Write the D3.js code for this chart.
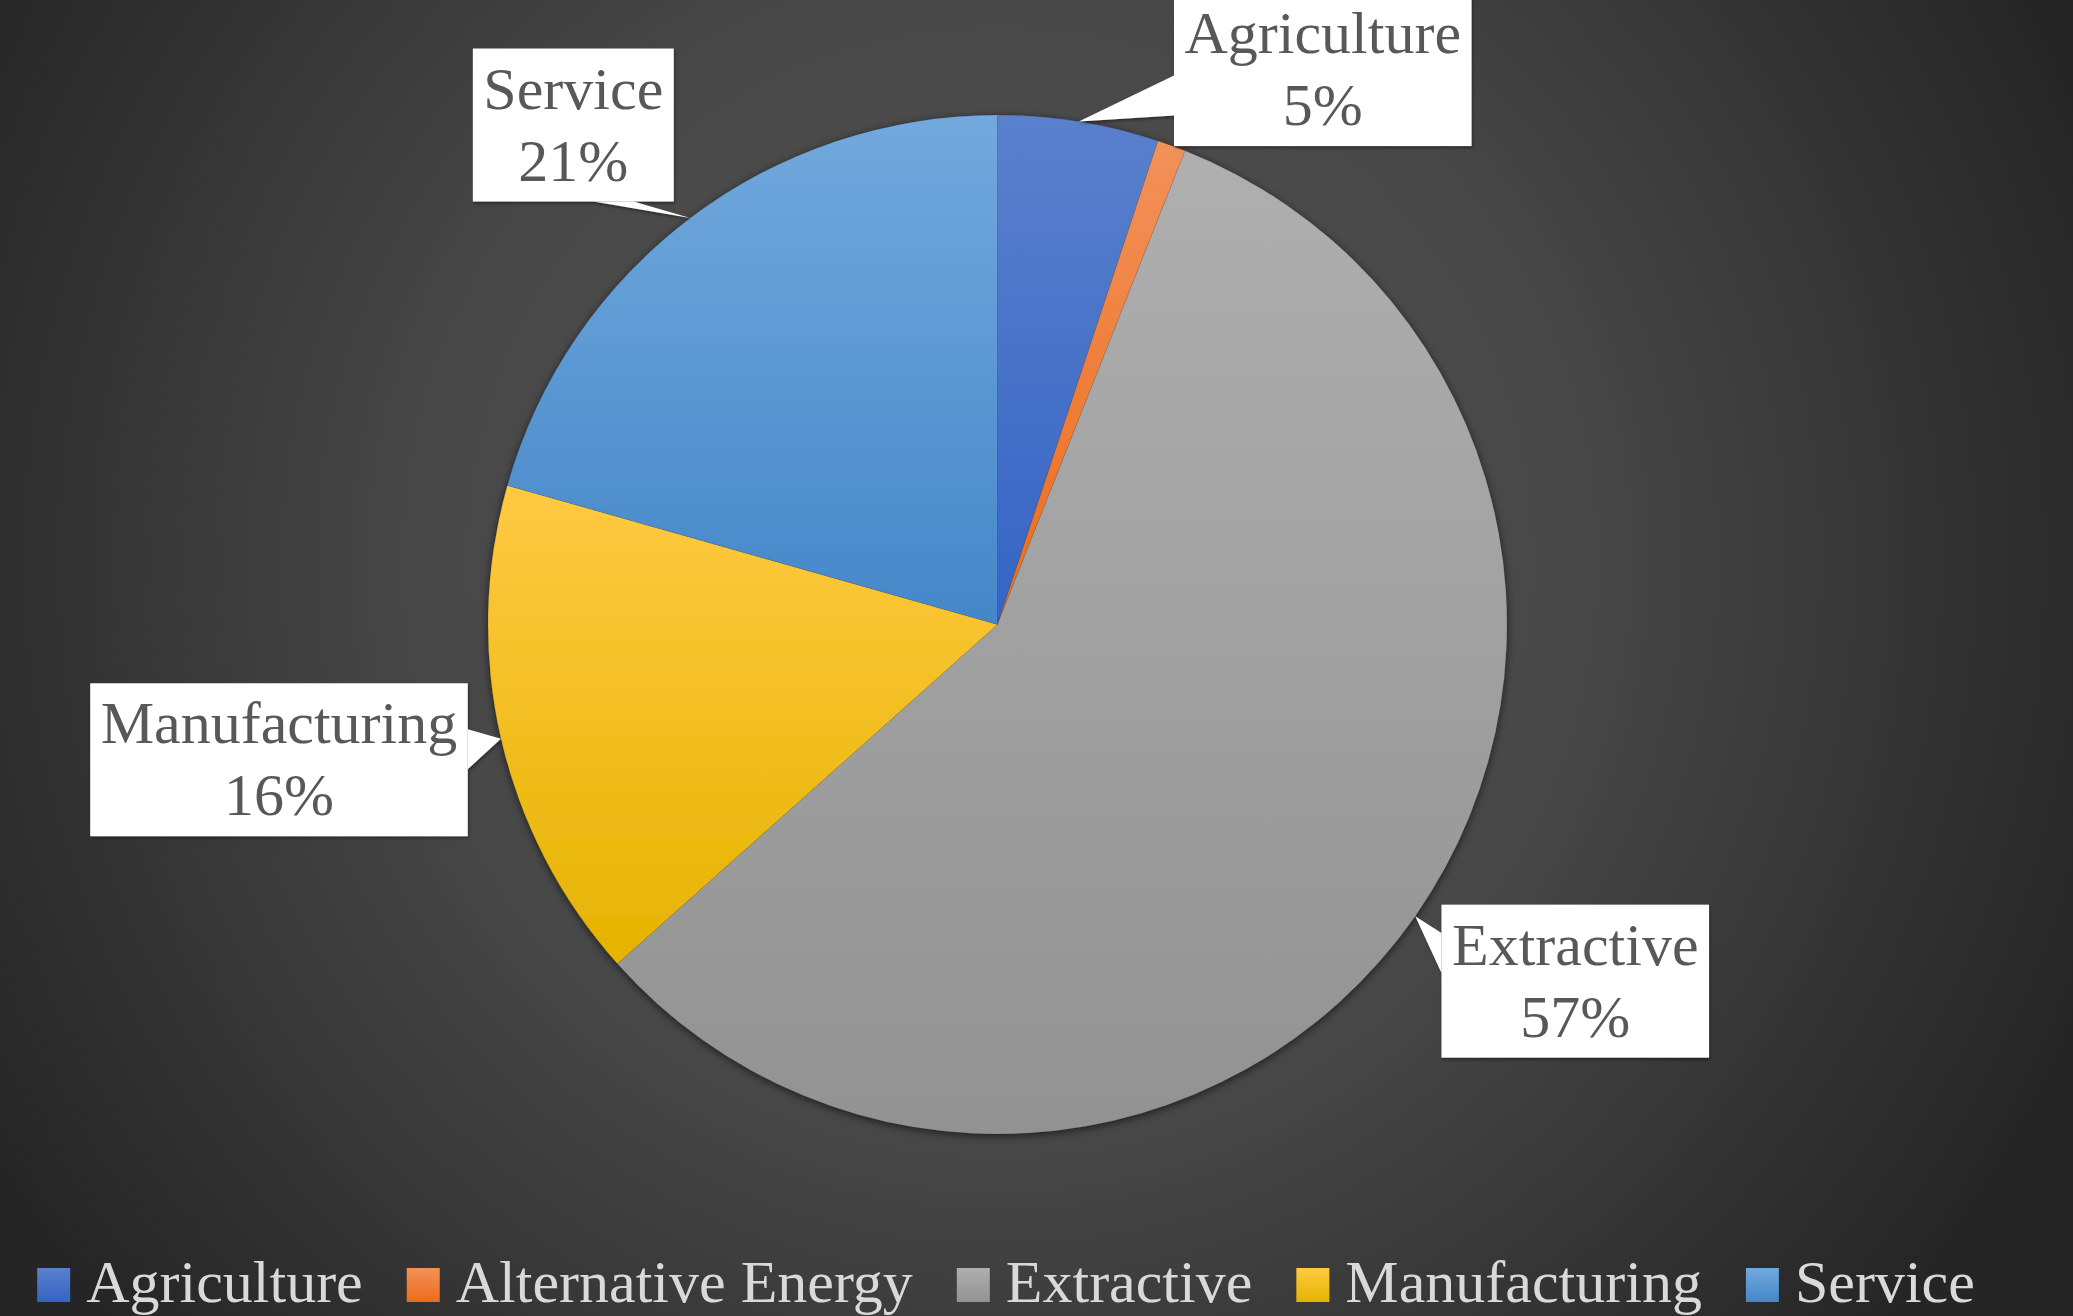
<!DOCTYPE html>
<html>
<head>
<meta charset="utf-8">
<script src="https://cdn.jsdelivr.net/npm/d3@7"></script>
<style>
    body { margin: 0; background: #2b2b2b; overflow: hidden; }
    text { font-family: "Liberation Serif", "DejaVu Serif", serif; }
</style>
</head>
<body>
<script>
// data
var categories = ["Agriculture", "Alternative Energy", "Extractive", "Manufacturing", "Service"];
var shares = [5.1, 0.9, 57.4, 16.0, 20.6];

// slice colours (top and bottom of each gradient)
var colorTop = ["#5b80cc", "#f2915a", "#afafaf", "#ffca42", "#72a9dd"];
var colorBottom = ["#3464c5", "#ec6c1a", "#929292", "#e5b300", "#4487c9"];

// the Alternative Energy callout sits above the visible area, so only these show
var labelled = ["Agriculture", "Extractive", "Manufacturing", "Service"];

window.onload = function() {
    var w = 2073, h = 1316;
    var cx = 997.5, cy = 624.5, r = 509.5;

    // where each callout box sits, relative to the point its pointer touches
    var calloutOffset = {
        "Agriculture": [244, -52],
        "Service": [-117, -93],
        "Manufacturing": [-222, 21],
        "Extractive": [160, 65]
    };

    var svg = d3.select("body")
        .append("svg")
        .attr("width", w)
        .attr("height", h);

    var defs = svg.append("defs");

    // dark radial background
    var bg = defs.append("radialGradient")
        .attr("id", "bg")
        .attr("gradientUnits", "userSpaceOnUse")
        .attr("cx", 1000).attr("cy", 560).attr("r", 1170);
    bg.append("stop").attr("offset", 0).attr("stop-color", "#555555");
    bg.append("stop").attr("offset", 0.5).attr("stop-color", "#474747");
    bg.append("stop").attr("offset", 1).attr("stop-color", "#252525");

    svg.append("rect")
        .attr("width", w)
        .attr("height", h)
        .style("fill", "url(#bg)");

    // one vertical gradient per slice
    categories.forEach(function(c, i) {
        var g = defs.append("linearGradient")
            .attr("id", "grad" + i)
            .attr("x1", 0).attr("y1", 0).attr("x2", 0).attr("y2", 1);
        g.append("stop").attr("offset", 0).attr("stop-color", colorTop[i]);
        g.append("stop").attr("offset", 1).attr("stop-color", colorBottom[i]);
    });

    var shadow = defs.append("filter")
        .attr("id", "shadow")
        .attr("x", "-10%").attr("y", "-10%")
        .attr("width", "120%").attr("height", "120%");
    shadow.append("feDropShadow")
        .attr("dx", 0).attr("dy", 2)
        .attr("stdDeviation", 4)
        .attr("flood-color", "#000")
        .attr("flood-opacity", 0.6);

    var boxShadow = defs.append("filter")
        .attr("id", "boxShadow")
        .attr("x", "-10%").attr("y", "-10%")
        .attr("width", "120%").attr("height", "130%");
    boxShadow.append("feDropShadow")
        .attr("dx", 1).attr("dy", 2)
        .attr("stdDeviation", 1.5)
        .attr("flood-color", "#000")
        .attr("flood-opacity", 0.4);

    var data = categories.map(function(c, i) {
        return { name: c, value: shares[i], index: i };
    });
    var total = d3.sum(shares);

    var pie = d3.pie()
        .sort(null)
        .value(function(d) { return d.value; });
    var arcs = pie(data);

    var arc = d3.arc().innerRadius(0).outerRadius(r);
    var rim = d3.arc().innerRadius(r).outerRadius(r); // point on the edge at mid angle

    var pieGroup = svg.append("g")
        .attr("transform", "translate(" + cx + "," + cy + ")")
        .attr("filter", "url(#shadow)");

    pieGroup.selectAll(".slice")
        .data(arcs)
        .enter()
        .append("path")
        .attr("class", "slice")
        .attr("d", arc)
        .style("fill", function(d) { return "url(#grad" + d.data.index + ")"; })
        .style("stroke", "rgba(0,0,0,0.12)")
        .style("stroke-width", 0.6);

    // callout labels
    var boxH = 153, pad = 10.5, wedge = 40;
    var labelGroup = svg.append("g");

    arcs.filter(function(d) { return labelled.indexOf(d.data.name) >= 0; })
        .forEach(function(d) {
            var tip = rim.centroid(d);
            tip = [tip[0] + cx, tip[1] + cy];
            var off = calloutOffset[d.data.name];
            var bx = tip[0] + off[0], by = tip[1] + off[1];
            var pct = Math.round(d.data.value / total * 100) + "%";

            var g = labelGroup.append("g").attr("filter", "url(#boxShadow)");

            // measure the text first to size the box
            var t1 = g.append("text")
                .attr("text-anchor", "middle")
                .style("font-size", "60px")
                .style("fill", "#595959")
                .text(d.data.name);
            var bw = t1.node().getComputedTextLength() + 2 * pad;
            var x0 = bx - bw / 2, y0 = by - boxH / 2, x1 = x0 + bw, y1 = y0 + boxH;

            // pointer base sits on the edge facing the tip
            var base;
            var sideways = Math.abs(tip[0] - bx) / (bw / 2) > Math.abs(tip[1] - by) / (boxH / 2);
            if (sideways) {
                var ex = tip[0] < bx ? x0 : x1;
                var my = (Math.max(y0 + wedge / 2, Math.min(y1 - wedge / 2, tip[1])) + by) / 2;
                base = [[ex, my - wedge / 2], [ex, my + wedge / 2]];
            } else {
                var ey = tip[1] < by ? y0 : y1;
                var mx = (Math.max(x0 + wedge / 2, Math.min(x1 - wedge / 2, tip[0])) + bx) / 2;
                base = [[mx - wedge / 2, ey], [mx + wedge / 2, ey]];
            }

            g.insert("path", "text")
                .attr("d", "M" + base[0] + "L" + tip + "L" + base[1] + "Z")
                .style("fill", "#ffffff");
            g.insert("rect", "text")
                .attr("x", x0).attr("y", y0)
                .attr("width", bw).attr("height", boxH)
                .style("fill", "#ffffff");

            t1.attr("x", bx).attr("y", y0 + 60);
            g.append("text")
                .attr("text-anchor", "middle")
                .attr("x", bx)
                .attr("y", y0 + 132)
                .style("font-size", "60px")
                .style("fill", "#595959")
                .text(pct);
        });

    // legend along the bottom
    var sq = 33, gap = 16, itemGap = 44, legendY = 1268;
    var legend = svg.append("g");
    var items = legend.selectAll(".item")
        .data(data)
        .enter()
        .append("g")
        .attr("class", "item");

    items.append("rect")
        .attr("width", sq)
        .attr("height", 34)
        .attr("y", legendY)
        .style("fill", function(d) { return "url(#grad" + d.index + ")"; });

    items.append("text")
        .attr("x", sq + gap)
        .attr("y", legendY + 34)
        .style("font-size", "60px")
        .style("fill", "#d9d9d9")
        .text(function(d) { return d.name; });

    // place items one after another, centred on the chart
    var widths = [];
    items.each(function() {
        widths.push(sq + gap + d3.select(this).select("text").node().getComputedTextLength());
    });
    var full = d3.sum(widths) + itemGap * (widths.length - 1);
    var x = 1006 - full / 2;
    items.attr("transform", function(d, i) {
        var t = "translate(" + x + ",0)";
        x += widths[i] + itemGap;
        return t;
    });
};
</script>
</body>
</html>
